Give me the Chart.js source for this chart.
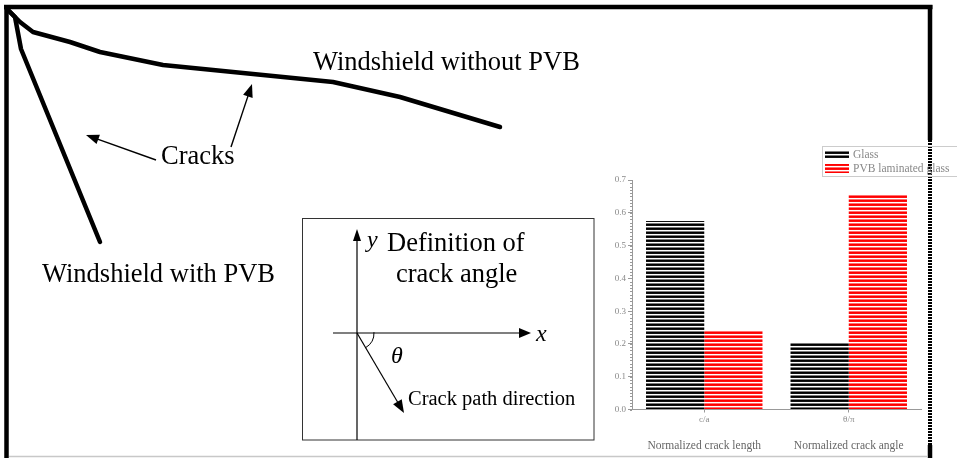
<!DOCTYPE html>
<html><head><meta charset="utf-8">
<script src="https://cdn.jsdelivr.net/npm/chart.js@4.4.1/dist/chart.umd.min.js"></script>
<style>
html,body{margin:0;padding:0;background:#fff;}
#wrap{position:relative;width:957px;height:458px;overflow:hidden;background:#fff;}
#sketch{position:absolute;left:0;top:0;}
#bars{position:absolute;left:600px;top:140px;filter:blur(0.5px);}
</style></head><body>
<div id="wrap">
<canvas id="sketch" width="957" height="458"></canvas>
<canvas id="bars" width="357" height="318"></canvas>
</div>
<script>
// Crack traces on the windshield, in sketch units (y grows downward)
const crackWithoutPVB = [[7,9],[20,22],[33,32],[70,42],[100,52],[163,65],[333,82],[400,97],[500,127]];
const crackWithPVB = [[7,9],[15,17],[21,49],[100,242]];

// Annotation text and callout arrows in the same units
const sketchLabels = [
  {text:'Windshield without PVB', at:[313,70], size:26.5},
  {text:'Windshield with PVB', at:[42,282], size:26.5},
  {text:'Cracks', at:[161,164], size:26.5},
  {text:'Definition of', at:[387,251], size:26.5},
  {text:'crack angle', at:[396,282], size:26.5},
  {text:'Crack path direction', at:[408,405], size:20.5},
  {text:'y', at:[367,247], size:24, italic:true},
  {text:'x', at:[536,341], size:24, italic:true},
  {text:'θ', at:[391,363], size:24, italic:true}
];
const callouts = [
  {from:[156,160], to:[86,135], head:[13,5], width:1.4},
  {from:[231,147], to:[252,84], head:[13,5], width:1.4}
];
const angleBox = [302.5,218.5,594,440];
const angleAxes = [
  {from:[357,440], to:[357,229], head:[12,4], width:1.2},
  {from:[333,333], to:[531,333], head:[12,5], width:1.2},
  {from:[357,333], to:[404,413], head:[13,5], width:1.2}
];

// Bar chart values
const categories = ['c/a', 'θ/π'];
const categoryNames = ['Normalized crack length', 'Normalized crack angle'];
const glass = [0.575, 0.204];
const pvbGlass = [0.242, 0.657];
const yTicks = [0, 0.1, 0.2, 0.3, 0.4, 0.5, 0.6, 0.7];

const serif = '"Liberation Serif", "Times New Roman", serif';

function drawArrow(ctx, p, a) {
  const x1 = p(a.from), x2 = p(a.to);
  const dx = x2[0]-x1[0], dy = x2[1]-x1[1];
  const len = Math.hypot(dx, dy), ux = dx/len, uy = dy/len;
  const [L, W] = a.head;
  ctx.strokeStyle = '#000'; ctx.fillStyle = '#000'; ctx.lineWidth = a.width;
  ctx.beginPath(); ctx.moveTo(x1[0], x1[1]); ctx.lineTo(x2[0]-ux*L*0.6, x2[1]-uy*L*0.6); ctx.stroke();
  ctx.beginPath();
  ctx.moveTo(x2[0], x2[1]);
  ctx.lineTo(x2[0]-ux*L-uy*W, x2[1]-uy*L+ux*W);
  ctx.lineTo(x2[0]-ux*L+uy*W, x2[1]-uy*L-ux*W);
  ctx.closePath(); ctx.fill();
}

const sketchDecor = {
  id: 'sketchDecor',
  beforeDatasetsDraw(chart) {
    const ctx = chart.ctx, sx = chart.scales.x, sy = chart.scales.y;
    const X = v => sx.getPixelForValue(v), Y = v => sy.getPixelForValue(v);
    ctx.save();
    ctx.strokeStyle = '#000'; ctx.lineWidth = 4.5; ctx.lineCap = 'butt';
    // outer frame
    ctx.beginPath(); ctx.moveTo(X(4), Y(7)); ctx.lineTo(X(932.5), Y(7)); ctx.stroke();
    ctx.beginPath(); ctx.moveTo(X(6.5), Y(5)); ctx.lineTo(X(6.5), Y(458)); ctx.stroke();
    ctx.beginPath(); ctx.moveTo(X(930), Y(5)); ctx.lineTo(X(930), Y(140)); ctx.stroke();
    ctx.beginPath(); ctx.moveTo(X(930), Y(445)); ctx.lineTo(X(930), Y(458)); ctx.stroke();
    ctx.setLineDash([2, 1]); ctx.strokeStyle = '#000'; ctx.lineWidth = 4;
    ctx.beginPath(); ctx.moveTo(X(930), Y(140)); ctx.lineTo(X(930), Y(445)); ctx.stroke();
    ctx.setLineDash([]);
    ctx.strokeStyle = '#c8c8c8'; ctx.lineWidth = 1.5;
    ctx.beginPath(); ctx.moveTo(X(9), Y(456.5)); ctx.lineTo(X(928), Y(456.5)); ctx.stroke();
    ctx.restore();
  },
  afterDatasetsDraw(chart) {
    const ctx = chart.ctx, sx = chart.scales.x, sy = chart.scales.y;
    const p = pt => [sx.getPixelForValue(pt[0]), sy.getPixelForValue(pt[1])];
    ctx.save();
    callouts.forEach(a => drawArrow(ctx, p, a));
    // crack angle definition panel
    const b0 = p([angleBox[0], angleBox[1]]), b1 = p([angleBox[2], angleBox[3]]);
    ctx.strokeStyle = '#333'; ctx.lineWidth = 1;
    ctx.strokeRect(b0[0], b0[1], b1[0]-b0[0], b1[1]-b0[1]);
    angleAxes.forEach(a => drawArrow(ctx, p, a));
    const o = p(angleAxes[2].from), e = p(angleAxes[2].to);
    ctx.lineWidth = 1; ctx.strokeStyle = '#000';
    ctx.beginPath(); ctx.arc(o[0], o[1], 17, -0.05, Math.atan2(e[1]-o[1], e[0]-o[0])); ctx.stroke();
    ctx.fillStyle = '#000'; ctx.textBaseline = 'alphabetic'; ctx.textAlign = 'left';
    sketchLabels.forEach(l => {
      ctx.font = (l.italic ? 'italic ' : '') + l.size + 'px ' + serif;
      const q = p(l.at);
      ctx.fillText(l.text, q[0], q[1]);
    });
    ctx.restore();
  }
};

new Chart(document.getElementById('sketch'), {
  type: 'scatter',
  data: {
    datasets: [crackWithoutPVB, crackWithPVB].map(pts => ({
      data: pts.map(([x, y]) => ({x, y})),
      showLine: true, borderColor: '#000', borderWidth: 4.5, pointRadius: 0,
      borderCapStyle: 'round', borderJoinStyle: 'round', tension: 0
    }))
  },
  options: {
    responsive: false, animation: false, events: [],
    layout: {padding: 0},
    plugins: {legend: {display: false}, tooltip: {enabled: false}},
    scales: {
      x: {type: 'linear', min: 0, max: 957, display: false},
      y: {type: 'linear', min: 0, max: 458, reverse: true, display: false}
    }
  },
  plugins: [sketchDecor]
});

// striped fills for the bars
const barsCanvas = document.getElementById('bars');
const barsCtx = barsCanvas.getContext('2d');
function stripes(rows) {
  const c = document.createElement('canvas');
  c.width = 4; c.height = rows.length;
  const g = c.getContext('2d');
  rows.forEach((col, i) => { g.fillStyle = col; g.fillRect(0, i, 4, 1); });
  return barsCtx.createPattern(c, 'repeat');
}
const glassFill = stripes(['#000', '#111', '#fff', '#7a7a7a']);
const pvbFill = stripes(['#ff0000', '#ff1010', '#fff', '#ff7070']);

const barDecor = {
  id: 'barDecor',
  afterDraw(chart) {
    const ctx = chart.ctx, sy = chart.scales.y, area = chart.chartArea;
    ctx.save();
    ctx.strokeStyle = '#999'; ctx.lineWidth = 1;
    for (let i = 0; i <= 70; i++) {
      const yy = Math.round(sy.getPixelForValue(i / 100)) + 0.5;
      ctx.beginPath(); ctx.moveTo(area.left - 2, yy); ctx.lineTo(area.left, yy); ctx.stroke();
    }
    // legend
    ctx.strokeStyle = '#ccc';
    ctx.strokeRect(222.5, 6.5, 140, 30);
    ctx.font = '11.5px ' + serif; ctx.textBaseline = 'middle'; ctx.fillStyle = '#888';
    chart.data.datasets.forEach((ds, i) => {
      const yy = 10 + i * 14;
      ctx.fillStyle = ds.backgroundColor; ctx.fillRect(225, yy, 24, 9);
      ctx.fillStyle = '#888'; ctx.fillText(ds.label, 253, yy + 5);
    });
    ctx.restore();
  }
};

new Chart(barsCanvas, {
  type: 'bar',
  data: {
    labels: categories,
    datasets: [
      {label: 'Glass', data: glass, backgroundColor: glassFill, borderWidth: 0, categoryPercentage: 0.806, barPercentage: 1},
      {label: 'PVB laminated glass', data: pvbGlass, backgroundColor: pvbFill, borderWidth: 0, categoryPercentage: 0.806, barPercentage: 1}
    ]
  },
  options: {
    responsive: false, animation: false, events: [],
    layout: {padding: {left: 0, right: 36, top: 40, bottom: 0}},
    plugins: {legend: {display: false}, tooltip: {enabled: false}},
    scales: {
      x: {
        grid: {display: true, drawOnChartArea: false, offset: false, tickLength: 3, color: '#999'},
        border: {display: true, color: '#999'},
        ticks: {font: {family: serif, size: 9}, color: '#888', padding: 2, maxRotation: 0},
        afterFit(s) { s.height = 20; }
      },
      x2: {
        type: 'category', labels: categoryNames, position: 'bottom', offset: true,
        grid: {display: false}, border: {display: false},
        ticks: {font: {family: serif, size: 11.5}, color: '#666', padding: 2, maxRotation: 0},
        afterFit(s) { s.height = 28.5; }
      },
      y: {
        min: 0, max: 0.7,
        afterBuildTicks(s) { s.ticks = yTicks.map(v => ({value: v})); },
        ticks: {callback: v => Number(v).toFixed(1), font: {family: serif, size: 9}, color: '#888', padding: 2},
        grid: {drawOnChartArea: false, tickLength: 4, color: '#999'},
        border: {color: '#999'},
        afterFit(s) { s.width = 32; }
      }
    }
  },
  plugins: [barDecor]
});
</script>
</body></html>
